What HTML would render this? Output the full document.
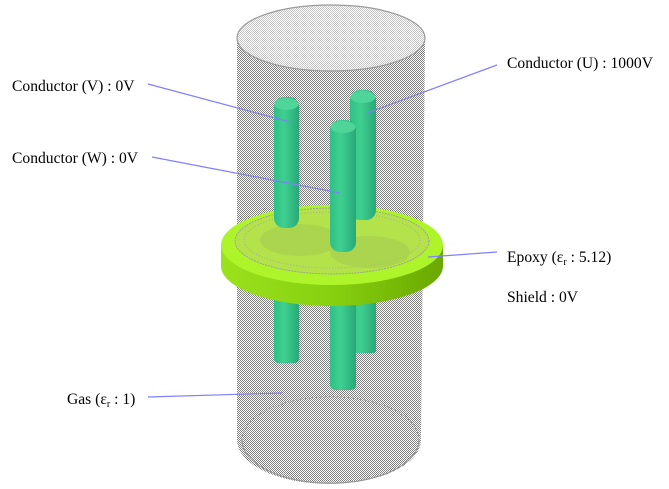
<!DOCTYPE html>
<html><head><meta charset="utf-8"><style>
html,body{margin:0;padding:0;background:#fff;}
svg{display:block;}
text{font-family:"Liberation Serif",serif;font-size:15.6px;fill:#000;}
</style></head><body>
<svg width="669" height="489" viewBox="0 0 669 489" xmlns="http://www.w3.org/2000/svg">
<defs>
<pattern id="chk" width="2" height="2" patternUnits="userSpaceOnUse">
<rect width="2" height="2" fill="#fff"/><rect width="1" height="1" fill="#808080"/><rect x="1" y="1" width="1" height="1" fill="#808080"/>
</pattern>
<pattern id="chkl" width="2" height="2" patternUnits="userSpaceOnUse">
<rect width="2" height="2" fill="#fff"/><rect width="1" height="1" fill="#c4c4c4"/><rect x="1" y="1" width="1" height="1" fill="#c4c4c4"/>
</pattern>
<linearGradient id="rod" x1="0" x2="1">
<stop offset="0" stop-color="#2fbf85"/><stop offset="0.4" stop-color="#3fd090"/><stop offset="1" stop-color="#28a878"/>
</linearGradient>
<linearGradient id="side" x1="0" x2="1">
<stop offset="0" stop-color="#9be21c"/><stop offset="0.5" stop-color="#86d010"/><stop offset="1" stop-color="#6aa800"/>
</linearGradient>
</defs>
<path d="M237,38 L237,440 A90,43 0 0 0 421,440 L425,38 Z" fill="url(#chk)"/>
<path d="M242,440 A88,43 0 0 1 419,440" fill="none" stroke="#999" stroke-width="1" stroke-dasharray="2,2"/>
<path d="M242,440 A88,43 0 0 0 419,440" fill="none" stroke="#999" stroke-width="1.2"/>
<ellipse cx="331" cy="38" rx="94" ry="33" fill="url(#chkl)" stroke="#999" stroke-width="1.2"/>
<rect x="274" y="295" width="25" height="68" rx="4" fill="url(#rod)"/>
<rect x="350" y="295" width="26" height="58" rx="3" fill="url(#rod)"/>
<rect x="330" y="300" width="26" height="90" rx="5" fill="url(#rod)"/>
<path d="M221,245 L221,266 A111,40 0 0 0 443,266 L443,245 Z" fill="url(#side)"/>
<ellipse cx="332" cy="245" rx="111" ry="40" fill="#adf52a"/>
<ellipse cx="332" cy="241" rx="97" ry="33" fill="#b4e24a" stroke="#a0a0a0" stroke-width="1" stroke-dasharray="2,1"/>
<ellipse cx="332" cy="240" rx="88" ry="28" fill="none" stroke="#a8a8a8" stroke-width="1" stroke-dasharray="1,2"/>
<ellipse cx="300" cy="240" rx="40" ry="16" fill="#a6d050" opacity="0.7"/>
<ellipse cx="370" cy="252" rx="40" ry="16" fill="#a6d050" opacity="0.7"/>
<rect x="274" y="97" width="25" height="131" rx="10" fill="url(#rod)"/>
<ellipse cx="286.5" cy="104" rx="12" ry="6" fill="#4fd59a"/>
<rect x="350" y="90" width="26" height="130" rx="10" fill="url(#rod)"/>
<ellipse cx="363" cy="97" rx="12.5" ry="6" fill="#4fd59a"/>
<rect x="330" y="120" width="26" height="132" rx="10" fill="url(#rod)"/>
<ellipse cx="343" cy="127" rx="12.5" ry="6" fill="#4fd59a"/>
<g stroke="#7f7fff" stroke-width="1.2" fill="none">
<line x1="148" y1="84" x2="290" y2="122"/>
<line x1="152" y1="157" x2="340" y2="193"/>
<line x1="497" y1="65" x2="367" y2="113"/>
<line x1="497" y1="252" x2="428" y2="257"/>
<line x1="148" y1="397" x2="282" y2="393"/>
</g>
<text x="12" y="91">Conductor (V) : 0V</text>
<text x="12" y="163">Conductor (W) : 0V</text>
<text x="507" y="68">Conductor (U) : 1000V</text>
<text x="507" y="262">Epoxy (ε<tspan font-size="10" dy="3">r</tspan><tspan dy="-3"> : 5.12)</tspan></text>
<text x="507" y="302">Shield : 0V</text>
<text x="67" y="404">Gas (ε<tspan font-size="10" dy="3">r</tspan><tspan dy="-3"> : 1)</tspan></text>
</svg>
</body></html>
